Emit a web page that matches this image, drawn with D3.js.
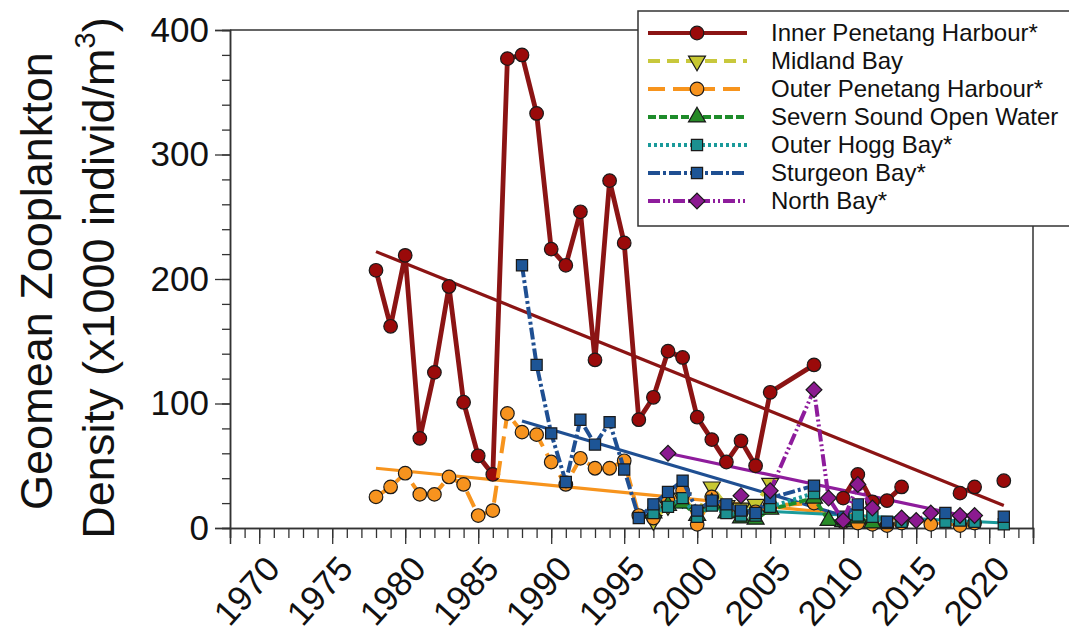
<!DOCTYPE html>
<html>
<head>
<meta charset="utf-8">
<script src="https://cdn.jsdelivr.net/npm/d3@7"></script>
<style>
  body { margin: 0; background: #fff; }
  text { font-family: "Liberation Sans", Arial, sans-serif; fill: #111; }
</style>
</head>
<body>
<svg id="chart" width="1069" height="633"></svg>
<script>
// rows of the data sheet (2006 and 2007 were not sampled anywhere)
var years = [1978, 1979, 1980, 1981, 1982, 1983, 1984, 1985, 1986, 1987, 1988, 1989, 1990, 1991,
  1992, 1993, 1994, 1995, 1996, 1997, 1998, 1999, 2000, 2001, 2002, 2003, 2004, 2005,
  2008, 2009, 2010, 2011, 2012, 2013, 2014, 2015, 2016, 2017, 2018, 2019, 2020, 2021];

var _ = null;
var innerPenetang = [207, 162, 219, 72, 125, 194, 101, 58, 43, 377, 380, 333, 224, 211,
  254, 135, 279, 229, 87, 105, 142, 137, 89, 71, 53, 70, 50, 109,
  131, _, 24, 43, 21, 22, 33, _, _, _, 28, 33, _, 38];
var midlandBay = [_, _, _, _, _, _, _, _, _, _, _, _, _, _,
  _, _, _, _, _, 6, 18, 24, 12, 33, 18, 16, 19, 36,
  _, _, _, _, _, _, _, _, _, _, _, _, _, _];
var outerPenetang = [25, 33, 44, 27, 27, 41, 35, 10, 14, 92, 77, 75, 53, 35,
  56, 48, 48, 54, 10, 8, 22, 30, 3, 25, 14, 12, 13, 18,
  20, _, 5, 4, 3, 2, 4, _, 3, _, 2, 4, _, _];
var severnSound = [_, _, _, _, _, _, _, _, _, _, _, _, _, _,
  _, _, _, _, _, 12, 18, 20, 10, 20, 12, 8, 7, 15,
  24, 6, 5, 8, 4, _, _, _, _, _, _, _, _, _];
var outerHogg = [_, _, _, _, _, _, _, _, _, _, _, _, _, _,
  _, _, _, _, _, 12, 17, 24, 9, 18, 12, 10, 10, 17,
  28, _, 7, 10, 9, 4, 5, _, _, 5, 6, 5, _, 3];
var sturgeonBay = [_, _, _, _, _, _, _, _, _, _, 211, 131, 76, 37,
  87, 67, 85, 47, 8, 19, 29, 38, 14, 22, 19, 14, 12, 24,
  34, _, 9, 19, _, 5, _, _, _, 12, _, _, _, 9];
var northBay = [_, _, _, _, _, _, _, _, _, _, _, _, _, _,
  _, _, _, _, _, _, 60, _, _, _, _, 26, _, 30,
  111, 24, 6, 35, 16, _, 8, 6, 12, _, 10, 10, _, _];

var seriesNames = ["Inner Penetang Harbour*", "Midland Bay", "Outer Penetang Harbour*",
  "Severn Sound Open Water", "Outer Hogg Bay*", "Sturgeon Bay*", "North Bay*"];
var seriesValues = [innerPenetang, midlandBay, outerPenetang, severnSound, outerHogg, sturgeonBay, northBay];
var lineColors = ["#8b1414", "#c8c83c", "#f7941d", "#1e8c2a", "#1a9a9a", "#1f4f92", "#8e1c9c"];
var fillColors = ["#9a0a0a", "#c8c832", "#f7931e", "#278a27", "#1b9090", "#1d5596", "#8b1a90"];
var dashes = ["none", "12,7", "17,8", "8,3", "3,3", "12,3,3,3", "12,3,2,3,2,3"];
var shapes = ["circle", "triangleDown", "circle", "triangleUp", "square", "square", "diamond"];

// linear trends for the starred sites: [from year, from value, to year, to value]
var trendSeries = [0, 2, 4, 5, 6];
var trends = [[1978, 222, 2021, 18], [1978, 48, 2019, 1], [1997, 18, 2021, 4],
  [1988, 86, 2012, 3], [1998, 60, 2019, 8]];

var yTicks = [0, 100, 200, 300, 400];
var xTicks = [1970, 1975, 1980, 1985, 1990, 1995, 2000, 2005, 2010, 2015, 2020];

var svg = d3.select("#chart");
var x = d3.scaleLinear().domain([1968, 2023]).range([230, 1033]);
var y = d3.scaleLinear().domain([0, 400]).range([528, 30]);

var symbolPath = function(shape) {
  if (shape === "circle") return d3.symbol().type(d3.symbolCircle).size(145)();
  if (shape === "square" || shape === "diamond") return d3.symbol().type(d3.symbolSquare).size(125)();
  return d3.symbol().type(d3.symbolTriangle).size(125)();
};
var symbolRotate = function(shape) {
  if (shape === "diamond") return " rotate(45)";
  if (shape === "triangleDown") return " rotate(180)";
  return "";
};

// frame
svg.append("path")
  .attr("d", "M" + x(1968) + "," + y(400) + "H" + x(2023) + "V" + y(0))
  .attr("fill", "none").attr("stroke", "#333").attr("stroke-width", 1.5);

// axes: minor ticks then major ticks with labels
var yMinor = svg.append("g").attr("transform", "translate(" + x(1968) + ",0)")
  .call(d3.axisLeft(y).tickValues(d3.range(0, 401, 20)).tickSize(8).tickFormat(""));
var yMajor = svg.append("g").attr("transform", "translate(" + x(1968) + ",0)")
  .call(d3.axisLeft(y).tickValues(yTicks).tickSize(15).tickPadding(6).tickFormat(d3.format("d")));
var xMinor = svg.append("g").attr("transform", "translate(0," + y(0) + ")")
  .call(d3.axisBottom(x).tickValues(d3.range(1968, 2024)).tickSize(10).tickFormat(""));
var xMajor = svg.append("g").attr("transform", "translate(0," + y(0) + ")")
  .call(d3.axisBottom(x).tickValues(xTicks).tickSize(16).tickFormat(d3.format("d")));

[yMinor, yMajor, xMinor, xMajor].forEach(function(g) {
  g.select(".domain").attr("stroke", "#333").attr("stroke-width", 1.5);
  g.selectAll(".tick line").attr("stroke", "#333").attr("stroke-width", 1.3);
});
yMajor.selectAll(".tick text").attr("font-size", 35).attr("fill", "#111");
xMajor.selectAll(".tick text")
  .attr("font-size", 35).attr("fill", "#111")
  .attr("text-anchor", "end")
  .attr("dy", null).attr("y", null)
  .attr("transform", "translate(22,42) rotate(-48)");

// axis title
var title = svg.append("text")
  .attr("transform", "translate(52,281) rotate(-90)")
  .attr("text-anchor", "middle").attr("font-size", 45)
  .text("Geomean Zooplankton");
var title2 = svg.append("text")
  .attr("transform", "translate(114,278) rotate(-90)")
  .attr("text-anchor", "middle").attr("font-size", 45);
title2.append("tspan").text("Density (x1000 individ/m");
title2.append("tspan").attr("font-size", 29).attr("dy", -19).text("3");
title2.append("tspan").attr("dy", 19).text(")");

// trend lines
trends.forEach(function(t, i) {
  svg.append("line")
    .attr("x1", x(t[0])).attr("y1", y(t[1]))
    .attr("x2", x(t[2])).attr("y2", y(t[3]))
    .attr("stroke", lineColors[trendSeries[i]]).attr("stroke-width", 3.2);
});

// series
var line = d3.line()
  .defined(function(d) { return d[1] !== null; })
  .x(function(d) { return x(d[0]); })
  .y(function(d) { return y(d[1]); });

seriesValues.forEach(function(vals, i) {
  var pts = years.map(function(yr, j) { return [yr, vals[j]]; });
  var g = svg.append("g");
  g.append("path").datum(pts)
    .attr("d", line)
    .attr("fill", "none")
    .attr("stroke", lineColors[i])
    .attr("stroke-width", i === 0 ? 4.8 : 4)
    .attr("stroke-dasharray", dashes[i]);
  g.selectAll("path.m").data(pts.filter(function(d) { return d[1] !== null; }))
    .enter().append("path").attr("class", "m")
    .attr("d", symbolPath(shapes[i]))
    .attr("transform", function(d) { return "translate(" + x(d[0]) + "," + y(d[1]) + ")" + symbolRotate(shapes[i]); })
    .attr("fill", fillColors[i])
    .attr("stroke", "#1a1a1a").attr("stroke-width", 1.2);
});

// legend
var legend = svg.append("g");
legend.append("rect")
  .attr("x", 638).attr("y", 11).attr("width", 440).attr("height", 215)
  .attr("fill", "#fff").attr("stroke", "#333").attr("stroke-width", 1.5);
seriesNames.forEach(function(name, i) {
  var ly = 33 + i * 28;
  legend.append("line")
    .attr("x1", 648).attr("x2", 747).attr("y1", ly).attr("y2", ly)
    .attr("stroke", lineColors[i]).attr("stroke-width", 4)
    .attr("stroke-dasharray", dashes[i]);
  legend.append("path")
    .attr("d", symbolPath(shapes[i]))
    .attr("transform", "translate(697," + ly + ")" + symbolRotate(shapes[i]))
    .attr("fill", fillColors[i]).attr("stroke", "#1a1a1a").attr("stroke-width", 1.2);
  legend.append("text")
    .attr("x", 771).attr("y", ly + 8)
    .attr("font-size", 24)
    .text(name);
});
</script>
</body>
</html>
